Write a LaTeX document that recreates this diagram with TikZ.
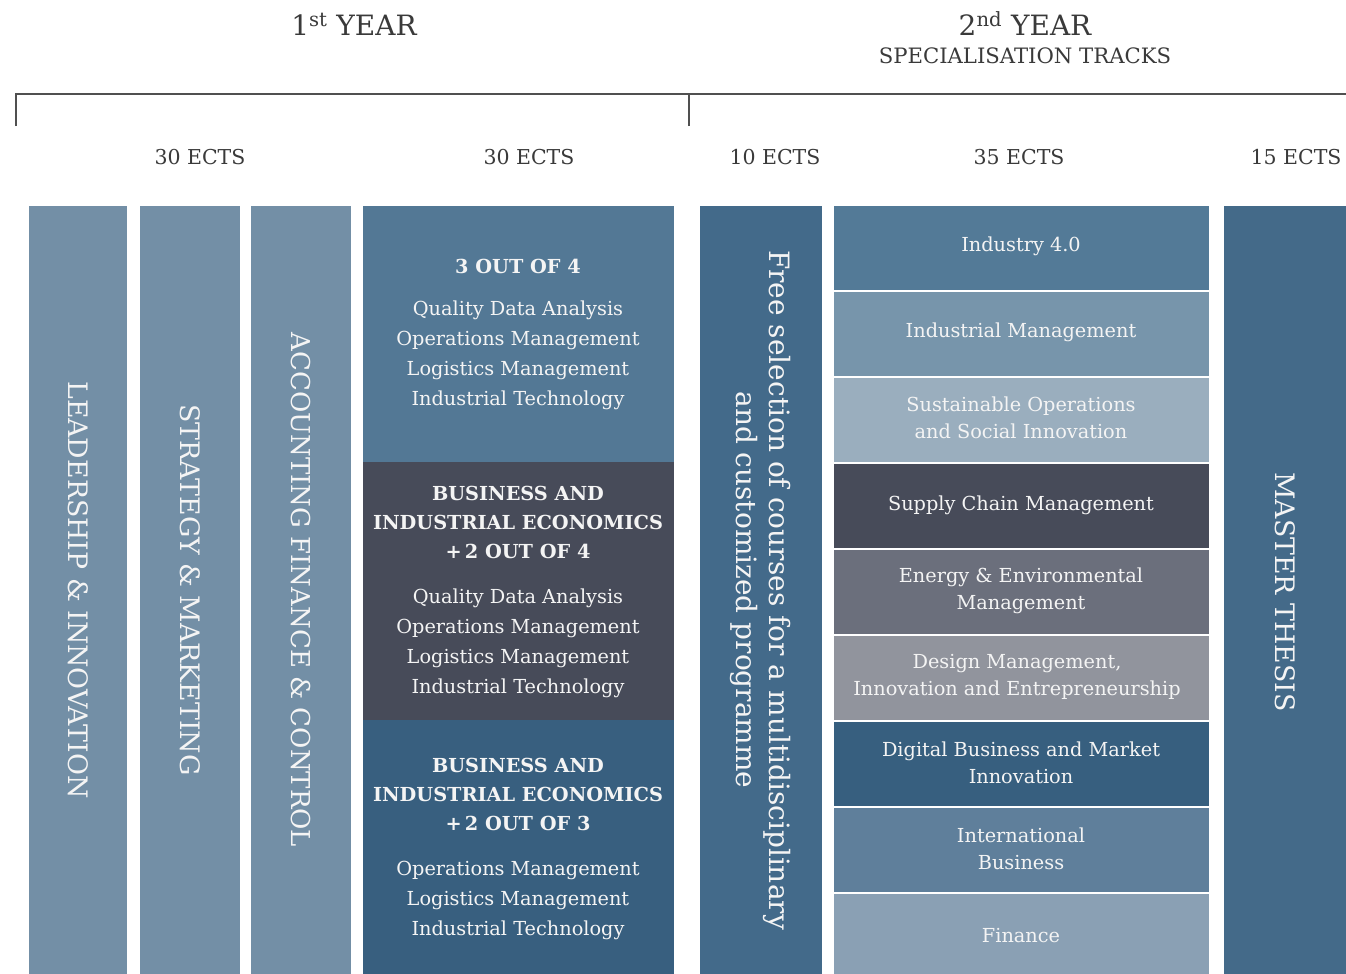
\documentclass[tikz,border=0pt]{standalone}
\usepackage{fontspec}
\setmainfont{DejaVu Serif}
\definecolor{headtext}{HTML}{3A3A3A}
\definecolor{rulegray}{HTML}{505050}
\definecolor{boxtext}{HTML}{F4F4F4}
\definecolor{core}{HTML}{738FA6}
\definecolor{optA}{HTML}{537895}
\definecolor{optB}{HTML}{474B59}
\definecolor{optC}{HTML}{385F7F}
\definecolor{free}{HTML}{436A8A}
\definecolor{thesis}{HTML}{446A89}
\definecolor{trA}{HTML}{537A97}
\definecolor{trB}{HTML}{7795AB}
\definecolor{trC}{HTML}{9AAEBE}
\definecolor{trD}{HTML}{474B59}
\definecolor{trE}{HTML}{6B6F7C}
\definecolor{trF}{HTML}{91949D}
\definecolor{trG}{HTML}{375F7F}
\definecolor{trH}{HTML}{5F7F9B}
\definecolor{trI}{HTML}{8AA0B4}
\begin{document}
\begin{tikzpicture}[x=1pt,y=-1pt,
  panel/.style={rectangle, draw=none, inner sep=0pt, outer sep=0pt, anchor=north west},
  coltext/.style={text=boxtext, rotate=-90, inner sep=0pt, font=\fontsize{26.8}{33}\selectfont, align=center},
  celltext/.style={text=boxtext, inner sep=0pt, align=center, font=\fontsize{19.3}{30}\selectfont},
  tracktext/.style={text=boxtext, inner sep=0pt, align=center, font=\fontsize{19.3}{27}\selectfont},
  ects/.style={text=headtext, inner sep=0pt, font=\fontsize{20.5}{24}\selectfont},
  yearhead/.style={text=headtext, inner sep=0pt, font=\fontsize{28}{30}\selectfont},
  bracket/.style={draw=rulegray, line width=1.6pt}
]
\useasboundingbox (0,0) rectangle (1346,974);

% headings
\node[yearhead] (y1) at (354,24) {1\textsuperscript{st} YEAR};
\node[yearhead] (y2) at (1025,24) {2\textsuperscript{nd} YEAR};
\node[text=headtext, inner sep=0pt, font=\fontsize{21.2}{24}\selectfont] (spec) at (1025,56) {SPECIALISATION TRACKS};

% bracket spanning both years
\coordinate (bl) at (16,126);
\coordinate (bm) at (689,126);
\coordinate (bmt) at (689,94);
\coordinate (br) at (1346,94);
\draw[bracket] (bl) |- (br);
\draw[bracket] (bm) -- (bmt);

% credit labels
\node[ects] (e1) at (200,157) {30 ECTS};
\node[ects] (e2) at (529,157) {30 ECTS};
\node[ects] (e3) at (775,157) {10 ECTS};
\node[ects] (e4) at (1019,157) {35 ECTS};
\node[ects] (e5) at (1296,157) {15 ECTS};

% first year core courses
\node[panel, fill=core, minimum width=98pt, minimum height=768pt] (lead) at (29,206) {};
\node[panel, fill=core, minimum width=100pt, minimum height=768pt] (strat) at (140,206) {};
\node[panel, fill=core, minimum width=100pt, minimum height=768pt] (acc) at (251,206) {};
\node[coltext] (leadt) at (lead.center) {LEADERSHIP \& INNOVATION};
\node[coltext] (stratt) at (strat.center) {STRATEGY \& MARKETING};
\node[coltext, font=\fontsize{26}{33}\selectfont] (acct) at (acc.center) {ACCOUNTING FINANCE \& CONTROL};

% first year elective options
\node[panel, fill=optA, minimum width=311pt, minimum height=256pt] (oa) at (363,206) {};
\node[panel, fill=optB, minimum width=311pt, minimum height=258pt] (ob) at (363,462) {};
\node[panel, fill=optC, minimum width=311pt, minimum height=254pt] (oc) at (363,720) {};
\node[celltext] (oat) at (518,334) {\textbf{3 OUT OF 4}\\[12pt]
  Quality Data Analysis\\Operations Management\\Logistics Management\\Industrial Technology};
\node[celltext] (obt) at (518,592) {\textbf{BUSINESS AND}\\[-1pt]\textbf{INDUSTRIAL ECONOMICS}\\[-1pt]\textbf{+\,2 OUT OF 4}\\[15pt]
  Quality Data Analysis\\Operations Management\\Logistics Management\\Industrial Technology};
\node[celltext] (oct) at (518,849) {\textbf{BUSINESS AND}\\[-1pt]\textbf{INDUSTRIAL ECONOMICS}\\[-1pt]\textbf{+\,2 OUT OF 3}\\[15pt]
  Operations Management\\Logistics Management\\Industrial Technology};

% second year: free selection
\node[panel, fill=free, minimum width=122pt, minimum height=768pt] (fs) at (700,206) {};
\node[coltext, font=\fontsize{28}{33}\selectfont] (fst) at (fs.center) {Free selection of courses for a multidisciplinary\\and customized programme};

% second year: specialisation tracks
\node[panel, fill=trA, minimum width=375pt, minimum height=83.5pt] (t1) at (834,206) {};
\node[panel, fill=trB, minimum width=375pt, minimum height=83.5pt] (t2) at (834,292) {};
\node[panel, fill=trC, minimum width=375pt, minimum height=83.5pt] (t3) at (834,378) {};
\node[panel, fill=trD, minimum width=375pt, minimum height=83.5pt] (t4) at (834,464) {};
\node[panel, fill=trE, minimum width=375pt, minimum height=83.5pt] (t5) at (834,550) {};
\node[panel, fill=trF, minimum width=375pt, minimum height=83.5pt] (t6) at (834,636) {};
\node[panel, fill=trG, minimum width=375pt, minimum height=83.5pt] (t7) at (834,722) {};
\node[panel, fill=trH, minimum width=375pt, minimum height=83.5pt] (t8) at (834,808) {};
\node[panel, fill=trI, minimum width=375pt, minimum height=80pt] (t9) at (834,894) {};
\node[tracktext] (t1t) at (1021,246) {Industry 4.0};
\node[tracktext] (t2t) at (1021,332) {Industrial Management};
\node[tracktext] (t3t) at (1021,418) {Sustainable Operations\\and Social Innovation};
\node[tracktext] (t4t) at (1021,505) {Supply Chain Management};
\node[tracktext] (t5t) at (1021,591) {Energy \& Environmental\\Management};
\node[tracktext] (t6t) at (1017,677) {Design Management,\\Innovation and Entrepreneurship};
\node[tracktext] (t7t) at (1021,763) {Digital Business and Market\\Innovation};
\node[tracktext] (t8t) at (1021,849) {International\\Business};
\node[tracktext] (t9t) at (1021,936) {Finance};

% second year: thesis
\node[panel, fill=thesis, minimum width=122pt, minimum height=768pt] (mt) at (1224,206) {};
\node[coltext] (mtt) at (1285,592) {MASTER THESIS};
\end{tikzpicture}
\end{document}
